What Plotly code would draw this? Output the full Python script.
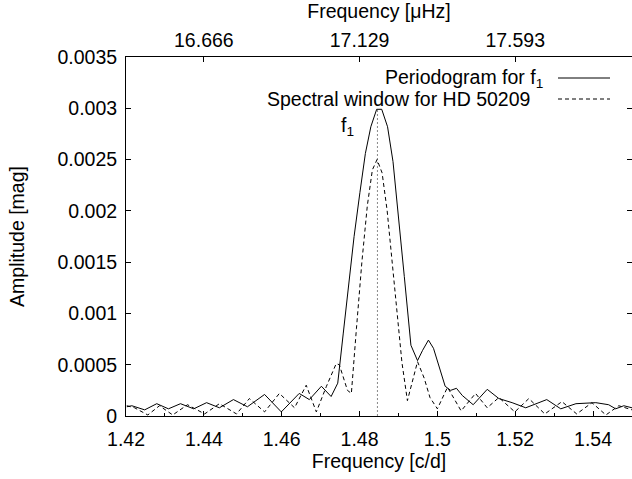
import plotly.graph_objects as go

# Periodogram for f1 (frequency in c/d, amplitude in mag)
freq_periodogram = [1.4202, 1.4215, 1.4248, 1.4279, 1.4309, 1.4340, 1.4374, 1.4407, 1.4440, 1.4476,
                    1.4512, 1.4556, 1.4599, 1.4645, 1.4671, 1.4702, 1.4727, 1.4744, 1.4758, 1.4772,
                    1.4786, 1.4801, 1.4815, 1.4829, 1.4844, 1.4857, 1.4872, 1.4886, 1.4901, 1.4915,
                    1.4932, 1.4949, 1.4962, 1.4977, 1.4990, 1.5004, 1.5020, 1.5034, 1.5049, 1.5064,
                    1.5092, 1.5128, 1.5158, 1.5192, 1.5227, 1.5281, 1.5317, 1.5356, 1.5407, 1.5440,
                    1.5458, 1.5479, 1.5500]
amp_periodogram = [0.00009, 0.00010, 0.00006, 0.00012, 0.00007, 0.00012, 0.00007, 0.00013, 0.00008, 0.00016,
                   0.00009, 0.00021, 0.00004, 0.00022, 0.00016, 0.00029, 0.00019, 0.00032, 0.00080, 0.00128,
                   0.00175, 0.00218, 0.00256, 0.00282, 0.00299, 0.00299, 0.00282, 0.00248, 0.00192, 0.00136,
                   0.00069, 0.00054, 0.00064, 0.00074, 0.00066, 0.00048, 0.00029, 0.00025, 0.00027, 0.00020,
                   0.00011, 0.00026, 0.00017, 0.00013, 0.00008, 0.00016, 0.00007, 0.00012, 0.00013, 0.00011,
                   0.00007, 0.00010, 0.00008]

# Spectral window for HD 50209
freq_window = [1.4202, 1.4222, 1.4256, 1.4286, 1.4320, 1.4358, 1.4402, 1.4440, 1.4484, 1.4517,
               1.4556, 1.4594, 1.4633, 1.4663, 1.4689, 1.4715, 1.4740, 1.4748, 1.4769, 1.4779,
               1.4792, 1.4806, 1.4820, 1.4833, 1.4845, 1.4858, 1.4871, 1.4884, 1.4897, 1.4909,
               1.4923, 1.4949, 1.4966, 1.4981, 1.5000, 1.5026, 1.5061, 1.5098, 1.5128, 1.5158,
               1.5199, 1.5235, 1.5276, 1.5320, 1.5358, 1.5397, 1.5433, 1.5466, 1.5500]
amp_window = [0.00010, 0.00008, 0.00001, 0.00010, 0.00001, 0.00011, 0.00002, 0.00012, 0.00002, 0.00017,
              0.00004, 0.00022, 0.00008, 0.00030, 0.00004, 0.00029, 0.00051, 0.00050, 0.00025, 0.00022,
              0.00085, 0.00150, 0.00205, 0.00240, 0.00250, 0.00237, 0.00200, 0.00150, 0.00095, 0.00052,
              0.00015, 0.00053, 0.00037, 0.00018, 0.00007, 0.00028, 0.00005, 0.00022, 0.00008, 0.00018,
              0.00004, 0.00017, 0.00002, 0.00014, 0.00002, 0.00013, 0.00001, 0.00010, 0.00006]

f1 = 1.4846

x_tick_vals = [1.42, 1.44, 1.46, 1.48, 1.50, 1.52, 1.54]
x_tick_text = ["1.42", "1.44", "1.46", "1.48", "1.5", "1.52", "1.54"]
x_minor_vals = [1.43, 1.45, 1.47, 1.49, 1.51, 1.53, 1.55]
top_tick_vals = [1.44, 1.48, 1.52]
top_tick_text = ["16.666", "17.129", "17.593"]
y_tick_vals = [0, 0.0005, 0.001, 0.0015, 0.002, 0.0025, 0.003, 0.0035]
y_tick_text = ["0", "0.0005", "0.001", "0.0015", "0.002", "0.0025", "0.003", "0.0035"]

FONT = "Liberation Sans, Arial, Helvetica, sans-serif"
FS = 19.5

fig = go.Figure()
fig.add_trace(go.Scatter(x=[f1, f1], y=[0, max(amp_periodogram)], mode="lines",
                         line=dict(color="#888888", width=1, dash="2px,2px"),
                         showlegend=False, hoverinfo="skip"))
fig.add_trace(go.Scatter(x=freq_window, y=amp_window, mode="lines",
                         line=dict(color="black", width=1, dash="4px,3px"),
                         showlegend=False))
fig.add_trace(go.Scatter(x=freq_periodogram, y=amp_periodogram, mode="lines",
                         line=dict(color="black", width=1),
                         showlegend=False))
# invisible trace to activate the top (µHz) axis
fig.add_trace(go.Scatter(x=[1.42, 1.55], y=[0, 0], xaxis="x2", mode="lines",
                         line=dict(color="rgba(0,0,0,0)"), showlegend=False, hoverinfo="skip"))

axis_common = dict(showgrid=False, zeroline=False, showline=True, linecolor="black", linewidth=1,
                   ticks="inside", tickcolor="black", ticklen=5, tickwidth=1,
                   tickfont=dict(family=FONT, size=FS, color="black"))

fig.update_layout(
    width=632, height=479,
    margin=dict(l=126, r=0, t=57, b=63),
    paper_bgcolor="white", plot_bgcolor="white",
    font=dict(family=FONT, size=FS, color="black"),
    xaxis=dict(range=[1.42, 1.55], tickmode="array", tickvals=x_tick_vals, ticktext=x_tick_text,
               minor=dict(tickmode="array", tickvals=x_minor_vals, ticks="inside", ticklen=3,
                          tickcolor="black"),
               ticklabelstandoff=6,
               title=dict(text="Frequency [c/d]", font=dict(family=FONT, size=FS), standoff=4),
               **axis_common),
    xaxis2=dict(range=[1.42, 1.55], overlaying="x", side="top", tickmode="array",
                tickvals=top_tick_vals, ticktext=top_tick_text,
                ticklabelstandoff=1,
                title=dict(text="Frequency [μHz]", font=dict(family=FONT, size=FS), standoff=6),
                **axis_common),
    yaxis=dict(range=[0, 0.0035], tickmode="array", tickvals=y_tick_vals, ticktext=y_tick_text,
               mirror="ticks", ticklabelstandoff=4,
               title=dict(text="Amplitude [mag]", font=dict(family=FONT, size=FS), standoff=27),
               **axis_common),
)

# f1 label next to the peak
fig.add_annotation(x=1.4768, y=0.00282, xref="x", yref="y", text="f<sub>1</sub>",
                   showarrow=False, font=dict(family=FONT, size=FS, color="black"))

# key (gnuplot style: text, then line sample)
key_items = [("Periodogram for f<sub>1</sub>", "solid", 78, 545),
             ("Spectral window for HD 50209", "4px,3px", 99, 532)]
for label, dash, ypx, xr in key_items:
    yp = 1 - (ypx - 57) / (479 - 57 - 63)
    fig.add_annotation(x=(xr - 126) / (632 - 126), y=yp, xref="paper", yref="paper",
                       xanchor="right", yanchor="middle", text=label, showarrow=False,
                       font=dict(family=FONT, size=FS, color="black"))
    fig.add_shape(type="line", xref="paper", yref="paper",
                  x0=(558 - 126) / (632 - 126), x1=(610 - 126) / (632 - 126), y0=yp, y1=yp,
                  line=dict(color="black", width=1, dash=dash))

fig.write_html("out.html")
